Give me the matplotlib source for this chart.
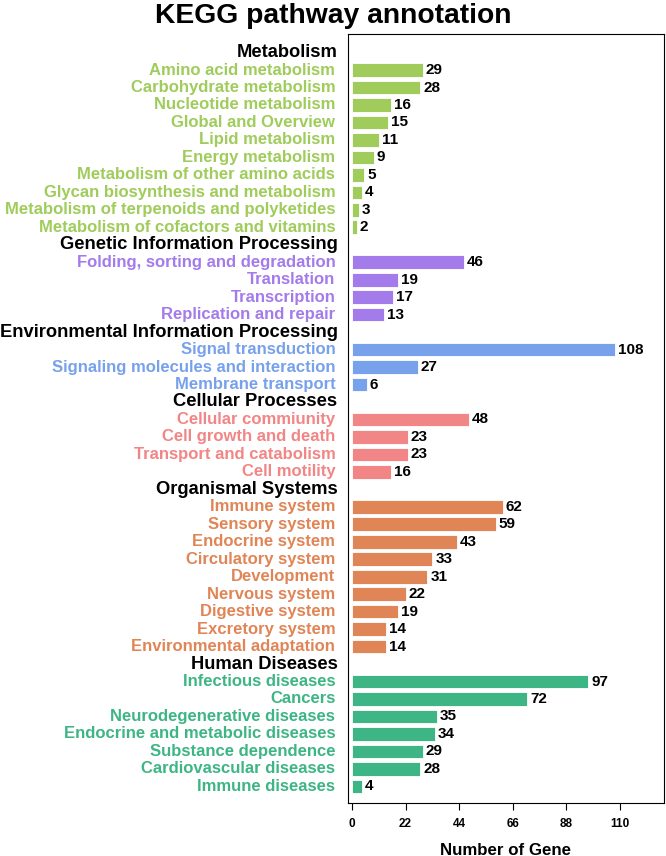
import matplotlib.pyplot as plt
import numpy as np

plt.rcParams['font.family'] = ['Liberation Sans', 'DejaVu Sans']
plt.rcParams['font.weight'] = 'bold'

# categories and their pathways / gene counts
groups = ["Metabolism", "Genetic Information Processing",
          "Environmental Information Processing", "Cellular Processes",
          "Organismal Systems", "Human Diseases"]

metabolism = ["Amino acid metabolism", "Carbohydrate metabolism", "Nucleotide metabolism",
              "Global and Overview", "Lipid metabolism", "Energy metabolism",
              "Metabolism of other amino acids", "Glycan biosynthesis and metabolism",
              "Metabolism of terpenoids and polyketides", "Metabolism of cofactors and vitamins"]
metabolism_n = [29, 28, 16, 15, 11, 9, 5, 4, 3, 2]

genetic = ["Folding, sorting and degradation", "Translation", "Transcription",
           "Replication and repair"]
genetic_n = [46, 19, 17, 13]

environmental = ["Signal transduction", "Signaling molecules and interaction",
                 "Membrane transport"]
environmental_n = [108, 27, 6]

cellular = ["Cellular commiunity", "Cell growth and death", "Transport and catabolism",
            "Cell motility"]
cellular_n = [48, 23, 23, 16]

organismal = ["Immune system", "Sensory system", "Endocrine system", "Circulatory system",
              "Development", "Nervous system", "Digestive system", "Excretory system",
              "Environmental adaptation"]
organismal_n = [62, 59, 43, 33, 31, 22, 19, 14, 14]

diseases = ["Infectious diseases", "Cancers", "Neurodegenerative diseases",
            "Endocrine and metabolic diseases", "Substance dependence",
            "Cardiovascular diseases", "Immune diseases"]
diseases_n = [97, 72, 35, 34, 29, 28, 4]

colors = ["#9FCC5A", "#A47BEB", "#78A1EC", "#F28585", "#E08556", "#3DB584"]

members = [(metabolism, metabolism_n), (genetic, genetic_n),
           (environmental, environmental_n), (cellular, cellular_n),
           (organismal, organismal_n), (diseases, diseases_n)]

fig = plt.figure(figsize=(6.66, 8.56), dpi=100)
ax = fig.add_axes([0.5225, 0.062, 0.4745, 0.898])

row = 0
for g, (names, counts), c in zip(groups, members, colors):
    # group header row, no bar
    ax.text(-0.033, row, g, transform=ax.get_yaxis_transform(), ha="right", va="center",
            fontsize=13.2, fontweight="bold", color="black")
    row += 1
    for name, n in zip(names, counts):
        ax.barh(row, n, height=0.78, color=c, edgecolor="white", linewidth=0.6)
        ax.text(n + 1.2, row, str(n), ha="left", va="center", fontsize=11,
                fontweight="bold", color="black")
        ax.text(-0.04, row, name, transform=ax.get_yaxis_transform(), ha="right",
                va="center", fontsize=12, fontweight="bold", color=c)
        row += 1

ax.set_ylim(row - 0.05, -1.05)
ax.set_xlim(-1.6, 128)
ax.set_yticks([])
ax.set_xticks([0, 22, 44, 66, 88, 110])
ax.tick_params(axis="x", labelsize=8.5, length=5, pad=6, direction="out")
for lbl in ax.get_xticklabels():
    lbl.set_fontweight("bold")
ax.set_xlabel("Number of Gene", fontsize=12.2, fontweight="bold", labelpad=9)
for s in ax.spines.values():
    s.set_linewidth(0.8)

fig.suptitle("KEGG pathway annotation", fontsize=20.3, fontweight="bold", y=0.997)

fig.savefig("out.png", dpi=100)
